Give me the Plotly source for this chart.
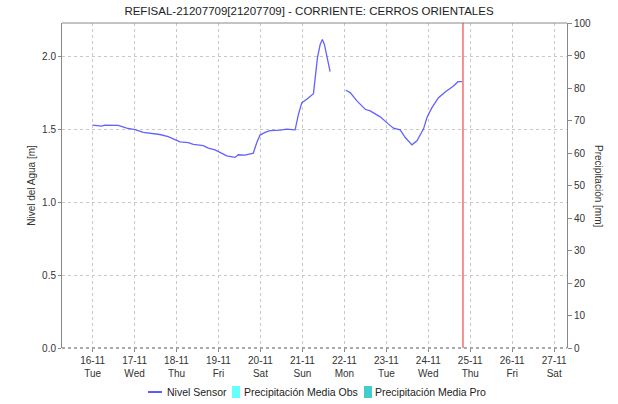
import plotly.graph_objects as go

# Water level readings (sensor 21207709)
sensor_time = [
    "2021-11-16 00:00", "2021-11-16 05:10", "2021-11-16 07:00", "2021-11-16 14:40",
    "2021-11-16 19:30", "2021-11-17 00:15", "2021-11-17 05:00", "2021-11-17 08:50",
    "2021-11-17 14:30", "2021-11-17 19:15", "2021-11-18 00:05", "2021-11-18 02:00",
    "2021-11-18 06:45", "2021-11-18 09:35", "2021-11-18 15:20", "2021-11-18 18:10",
    "2021-11-18 22:00", "2021-11-19 00:55", "2021-11-19 04:45", "2021-11-19 09:30",
    "2021-11-19 11:20", "2021-11-19 15:10", "2021-11-19 19:55", "2021-11-19 21:55",
    "2021-11-19 23:45", "2021-11-20 02:40", "2021-11-20 05:30", "2021-11-20 11:15",
    "2021-11-20 15:05", "2021-11-20 19:50", "2021-11-20 21:45", "2021-11-20 23:40",
    "2021-11-21 02:30", "2021-11-21 06:20", "2021-11-21 07:15", "2021-11-21 08:35",
    "2021-11-21 10:10", "2021-11-21 11:25", "2021-11-21 12:35", "2021-11-21 14:00",
    "2021-11-21 15:50", "2021-11-21 20:00",
    "2021-11-22 00:50", "2021-11-22 03:20", "2021-11-22 07:10", "2021-11-22 11:55",
    "2021-11-22 14:45", "2021-11-22 20:30", "2021-11-23 01:15", "2021-11-23 04:05",
    "2021-11-23 07:55", "2021-11-23 10:50", "2021-11-23 14:40", "2021-11-23 17:30",
    "2021-11-23 21:15", "2021-11-23 23:15", "2021-11-24 02:05", "2021-11-24 05:50",
    "2021-11-24 09:40", "2021-11-24 14:25", "2021-11-24 17:00", "2021-11-24 19:15",
]
sensor_level = [
    1.527, 1.520, 1.527, 1.525,
    1.506, 1.497, 1.477, 1.472,
    1.463, 1.449, 1.427, 1.413,
    1.408, 1.395, 1.386, 1.370,
    1.358, 1.340, 1.317, 1.306,
    1.324, 1.322, 1.335, 1.408,
    1.459, 1.477, 1.490, 1.493,
    1.500, 1.495, 1.602, 1.681,
    1.704, 1.743, 1.829, 1.988,
    2.080, 2.114, 2.080, 1.988,
    1.893, None,
    1.766, 1.750, 1.693, 1.636,
    1.625, 1.584, 1.534, 1.506,
    1.495, 1.442, 1.392, 1.420,
    1.500, 1.579, 1.647, 1.715,
    1.754, 1.795, 1.825, 1.825,
]

# Mean precipitation (observed / forecast): no values in this window
precip_obs_time = []
precip_obs = []
precip_pro_time = []
precip_pro = []

series_names = ["Nivel Sensor", "Precipitación Media Obs", "Precipitación Media Pro"]
series_colors = ["rgba(70,70,255,0.85)", "#66ffff", "#44cccc"]

current_time = "2021-11-24 19:50"
x_range = ["2021-11-15 06:30", "2021-11-27 07:20"]
level_range = [0, 2.227]
precip_range = [0, 100]

font_family = "Liberation Sans, Arial, sans-serif"
tick_font = dict(family=font_family, size=10, color="#333333")

fig = go.Figure()

fig.add_trace(go.Scatter(
    x=sensor_time, y=sensor_level, mode="lines", name=series_names[0],
    line=dict(color=series_colors[0], width=1.3),
    connectgaps=False,
))
fig.add_trace(go.Bar(
    x=precip_obs_time or [None], y=precip_obs or [None], name=series_names[1],
    marker=dict(color=series_colors[1]), yaxis="y2",
))
fig.add_trace(go.Bar(
    x=precip_pro_time or [None], y=precip_pro or [None], name=series_names[2],
    marker=dict(color=series_colors[2]), yaxis="y2",
))

fig.update_layout(
    width=618, height=404,
    margin=dict(l=62, r=51, t=23, b=56, autoexpand=False),
    paper_bgcolor="white", plot_bgcolor="white",
    font=dict(family=font_family, size=10, color="#333333"),
    title=dict(
        text="REFISAL-21207709[21207709] - CORRIENTE: CERROS ORIENTALES",
        x=0.5, xanchor="center", y=0.973, yanchor="middle",
        font=dict(family=font_family, size=11.5, color="#222222"),
    ),
    showlegend=False,
    xaxis=dict(
        type="date", range=x_range, automargin=False,
        dtick=86400000, tick0="2021-11-16",
        tickformat="%d-%m<br>%a",
        tickfont=tick_font,
        ticks="outside", ticklen=3, tickcolor="#888888",
        showgrid=True, gridcolor="#c8c8c8", griddash="dot", gridwidth=1,
        showline=False, zeroline=False,
    ),
    yaxis=dict(
        range=level_range, dtick=0.5, tickformat=".1f", automargin=False,
        tickfont=tick_font,
        ticks="outside", ticklen=3, tickcolor="#888888",
        showgrid=True, gridcolor="#c8c8c8", griddash="dot", gridwidth=1,
        showline=True, linecolor="#888888", linewidth=1,
        zeroline=False,
        title=dict(text="Nivel del Agua [m]", standoff=4,
                   font=dict(family=font_family, size=10, color="#333333")),
    ),
    yaxis2=dict(
        range=precip_range, dtick=10, overlaying="y", side="right", automargin=False,
        tickfont=tick_font,
        ticks="outside", ticklen=4, tickcolor="#888888",
        showgrid=False, showline=True, linecolor="#888888", linewidth=1,
        zeroline=False,
    ),
    bargap=0.2,
)

# right-hand axis title, reading top to bottom
fig.add_annotation(
    text="Precipitación [mm]", textangle=90,
    xref="paper", yref="paper", x=1.0, y=0.5,
    xanchor="left", yanchor="middle", xshift=24, showarrow=False,
    font=dict(family=font_family, size=10, color="#333333"),
)

# frame: solid top edge, dotted base line
fig.add_shape(type="line", xref="paper", yref="paper", x0=0, x1=1, y0=1, y1=1,
              line=dict(color="#888888", width=1))
fig.add_shape(type="line", xref="paper", yref="paper", x0=0, x1=1, y0=0, y1=0,
              line=dict(color="#555555", width=1, dash="dot"))

# current time marker
fig.add_shape(type="line", xref="x", yref="paper", x0=current_time, x1=current_time,
              y0=0, y1=1, line=dict(color="rgba(230,40,40,0.85)", width=1.2))

# compact legend row under the x axis (paper coordinates)
legend_y = -0.1354
legend_font = dict(family=font_family, size=10.5, color="#222222")
fig.add_shape(type="line", xref="paper", yref="paper",
              x0=0.1703, x1=0.1980, y0=legend_y, y1=legend_y,
              line=dict(color="#0000ff", width=1.3))
fig.add_annotation(text=series_names[0], xref="paper", yref="paper",
                   x=0.2045, y=legend_y, xanchor="left", yanchor="middle",
                   showarrow=False, font=legend_font)
for key_x0, text_x, name, color in [
    (0.3366, 0.3564, series_names[1], series_colors[1]),
    (0.5980, 0.6158, series_names[2], series_colors[2]),
]:
    fig.add_shape(type="rect", xref="paper", yref="paper",
                  x0=key_x0, x1=key_x0 + 0.0159, y0=legend_y + 0.0185, y1=legend_y - 0.0185,
                  fillcolor=color, line=dict(width=0))
    fig.add_annotation(text=name, xref="paper", yref="paper",
                       x=text_x, y=legend_y, xanchor="left", yanchor="middle",
                       showarrow=False, font=legend_font)

fig.write_html("out.html")
